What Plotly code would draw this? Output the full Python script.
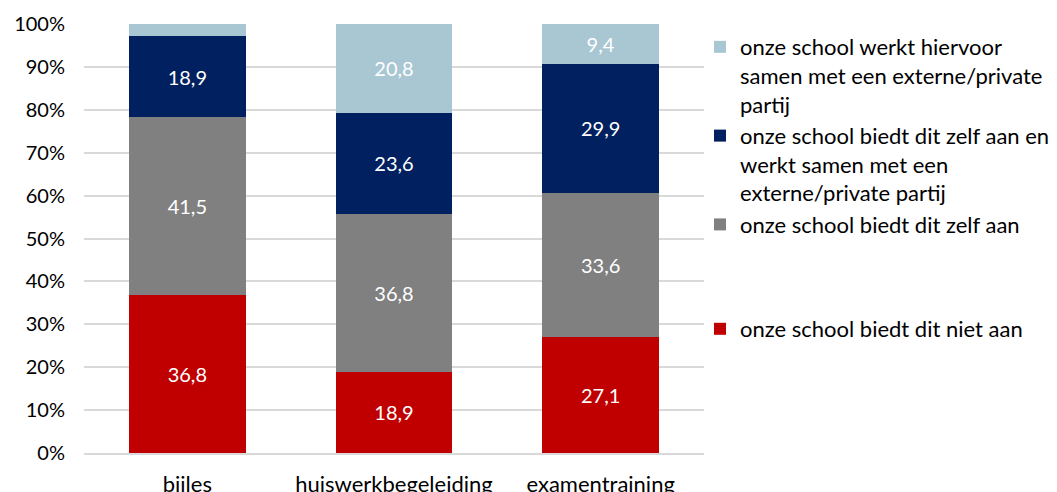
import plotly.graph_objects as go

categories = ["bijles", "huiswerkbegeleiding", "examentraining"]
niet_aan = [36.8, 18.9, 27.1]
zelf_aan = [41.5, 36.8, 33.6]
zelf_en_samen = [18.9, 23.6, 29.9]
samen_extern = [2.8, 20.8, 9.4]
show_label_extern = [False, True, True]

series_names = [
    "onze school biedt dit niet aan",
    "onze school biedt dit zelf aan",
    "onze school biedt dit zelf aan en<br>werkt samen met een<br>externe/private partij",
    "onze school werkt hiervoor<br>samen met een externe/private<br>partij",
]
colors = ["#C00000", "#808080", "#002060", "#A9C6D3"]

def fmt(v):
    return f"{v:.1f}".replace(".", ",")

FONT = "Lato"
fig = go.Figure()
all_vals = [niet_aan, zelf_aan, zelf_en_samen, samen_extern]
for i, (name, vals, col) in enumerate(zip(series_names, all_vals, colors)):
    if i == 3:
        texts = [fmt(v) if s else "" for v, s in zip(vals, show_label_extern)]
    else:
        texts = [fmt(v) for v in vals]
    fig.add_trace(go.Bar(
        x=categories, y=vals, name=name, marker_color=col,
        marker_line_width=0,
        text=texts, textposition="inside", insidetextanchor="middle",
        textfont=dict(color="white", size=20, family=FONT),
        textangle=0, constraintext="none",
        legend="legend2" if i == 0 else "legend",
        legendgroup=f"g{i}",
    ))

fig.update_layout(
    barmode="stack", bargap=0.435,
    width=1057, height=492,
    margin=dict(l=84, r=353, t=24, b=39, autoexpand=False),
    plot_bgcolor="white", paper_bgcolor="white",
    font=dict(family=FONT, size=20, color="#000000"),
    uniformtext=dict(mode=False),
    legend=dict(
        xref="container", yref="container", x=700 / 1057, y=1 - 26 / 492,
        xanchor="left", yanchor="top", traceorder="reversed", valign="top",
        font=dict(size=22, family=FONT), tracegroupgap=9,
        itemwidth=30, bgcolor="rgba(0,0,0,0)",
    ),
    legend2=dict(
        xref="container", yref="container", x=700 / 1057, y=1 - 308 / 492,
        xanchor="left", yanchor="top", valign="top",
        font=dict(size=22, family=FONT), itemwidth=30,
        bgcolor="rgba(0,0,0,0)",
    ),
    yaxis=dict(
        range=[0, 100], dtick=10, ticksuffix="%",
        showgrid=True, gridcolor="#D9D9D9", gridwidth=1.5,
        zeroline=False, showline=False, ticks="", automargin=False,
        ticklabelstandoff=18, tickfont=dict(size=20),
    ),
    xaxis=dict(
        showline=True, linecolor="#D9D9D9", linewidth=1.5, automargin=False,
        ticks="", ticklabelstandoff=11, tickfont=dict(size=22),
    ),
)

fig.write_html(
    "out.html",
    config={"displayModeBar": False},
    post_script="document.body.style.margin='0';document.body.style.padding='0';",
)
